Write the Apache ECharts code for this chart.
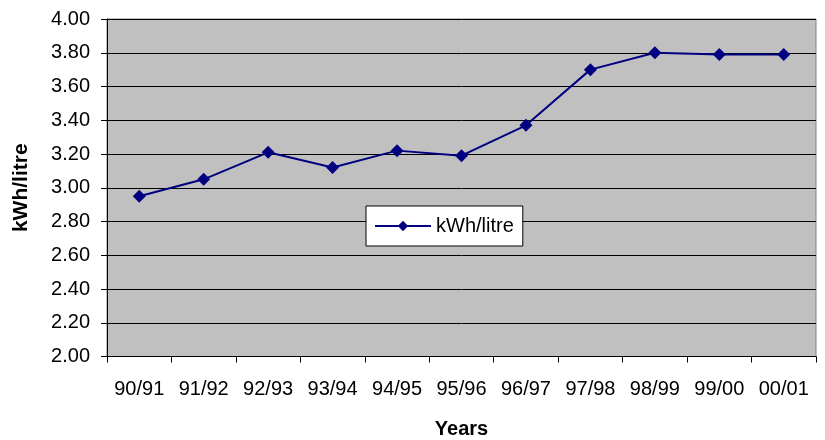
<!DOCTYPE html>
<html>
<head>
<meta charset="utf-8">
<script src="https://cdn.jsdelivr.net/npm/echarts@6/dist/echarts.min.js"></script>
<style>
  html, body { margin: 0; padding: 0; background: #ffffff; }
  #chart { width: 825px; height: 440px; }
</style>
</head>
<body>
<div id="chart"></div>
<script>
// Financial years on the category axis
const years = ['90/91', '91/92', '92/93', '93/94', '94/95', '95/96', '96/97', '97/98', '98/99', '99/00', '00/01'];
// Energy yield per litre of fuel
const kwhPerLitre = [2.95, 3.05, 3.21, 3.12, 3.22, 3.19, 3.37, 3.70, 3.80, 3.79, 3.79];
const seriesName = 'kWh/litre';

const FONT = '"Liberation Sans", Arial, sans-serif';
const chart = echarts.init(document.getElementById('chart'), null, { renderer: 'canvas' });

chart.setOption({
  animation: false,
  backgroundColor: '#ffffff',
  textStyle: { fontFamily: FONT },
  grid: {
    left: 107, right: 9, top: 19, bottom: 83.5,
    containLabel: false,
    outerBoundsMode: 'none',
    show: true,
    backgroundColor: '#c0c0c0',
    borderColor: '#808080',
    borderWidth: 1
  },
  legend: {
    data: [seriesName],
    left: 366, top: 206,
    orient: 'horizontal',
    backgroundColor: '#ffffff',
    borderColor: '#000000',
    borderWidth: 1,
    padding: [10, 9, 10, 8],
    itemWidth: 56, itemHeight: 13,
    itemGap: 6,
    textStyle: { fontFamily: FONT, fontSize: 20, color: '#000000' }
  },
  xAxis: {
    type: 'category',
    data: years,
    boundaryGap: true,
    name: 'Years',
    nameLocation: 'middle',
    nameGap: 63,
    nameTextStyle: { fontFamily: FONT, fontSize: 20, fontWeight: 'bold', color: '#000000' },
    axisLine: { lineStyle: { color: '#000000', width: 1 } },
    axisTick: { show: true, inside: false, length: 6, interval: 0, alignWithLabel: false, lineStyle: { color: '#000000' } },
    axisLabel: { fontFamily: FONT, fontSize: 20, color: '#000000', margin: 23, interval: 0 },
    splitLine: { show: false }
  },
  yAxis: {
    type: 'value',
    min: 2.0, max: 4.0, interval: 0.2,
    name: 'kWh/litre',
    nameLocation: 'middle',
    nameRotate: 90,
    nameGap: 75,
    nameTextStyle: { fontFamily: FONT, fontSize: 21, fontWeight: 'bold', color: '#000000' },
    axisLine: { show: true, lineStyle: { color: '#000000', width: 1 } },
    axisTick: { show: true, inside: false, length: 6, lineStyle: { color: '#000000' } },
    axisLabel: {
      fontFamily: FONT, fontSize: 20, color: '#000000', margin: 17,
      formatter: v => v.toFixed(2)
    },
    splitLine: { show: true, lineStyle: { color: '#000000', width: 1 } }
  },
  series: [{
    name: seriesName,
    type: 'line',
    data: kwhPerLitre,
    color: '#000080',
    lineStyle: { color: '#000080', width: 2 },
    symbol: 'diamond',
    symbolSize: 13,
    itemStyle: { color: '#000080' }
  }]
});
</script>
</body>
</html>
